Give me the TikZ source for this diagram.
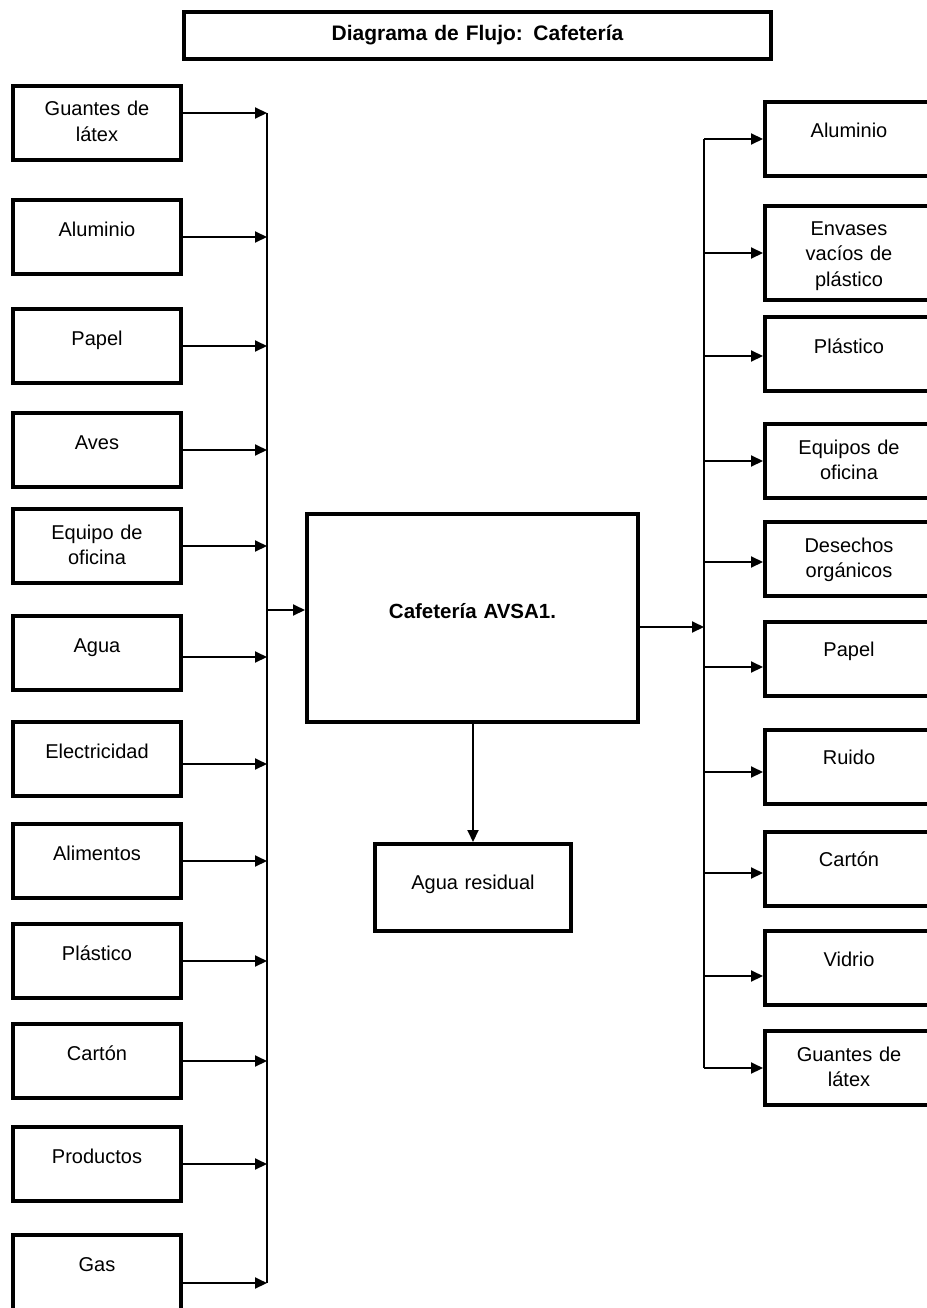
\documentclass[tikz,border=0pt]{standalone}
\usepackage{fontspec}
\setmainfont{Liberation Sans}
\usetikzlibrary{arrows.meta,positioning}
\newcommand{\boxfont}{\fontsize{20}{25.5}\selectfont}
\newcommand{\headfont}{\fontsize{20.5}{25}\selectfont\bfseries}
\newcommand{\titlefont}{\fontsize{21}{25}\selectfont\bfseries}

\begin{document}
\begin{tikzpicture}[x=1pt,y=-1pt,
  inbox/.style={draw,line width=4pt,anchor=north west,inner xsep=4pt,inner ysep=0pt,
    text width=160pt,align=center,font=\boxfont,text height=36pt,text depth=38pt},
  twoline/.style={text height=30pt,text depth=44pt},
  flow/.style={line width=2pt,-{Triangle[length=12pt,width=11pt]}},
  bus/.style={line width=2pt}]
  \useasboundingbox (0,0) rectangle (926,1308);

  \node[inbox,text width=577pt,inner xsep=5pt,font=\titlefont,text height=28.5pt,text depth=18.5pt]
    (title) at (182,10) {Diagrama de Flujo: Cafetería};

  % entradas
  \node[inbox,twoline] (in-guantes) at (11,84) {Guantes de\\látex};
  \node[inbox] (in-aluminio) at (11,198) {Aluminio};
  \node[inbox] (in-papel) at (11,307) {Papel};
  \node[inbox] (in-aves) at (11,411) {Aves};
  \node[inbox,twoline] (in-equipo) at (11,507) {Equipo de\\oficina};
  \node[inbox] (in-agua) at (11,614) {Agua};
  \node[inbox] (in-elec) at (11,720) {Electricidad};
  \node[inbox] (in-alim) at (11,822) {Alimentos};
  \node[inbox] (in-plastico) at (11,922) {Plástico};
  \node[inbox] (in-carton) at (11,1022) {Cartón};
  \node[inbox] (in-prod) at (11,1125) {Productos};
  \node[inbox,text depth=50pt] (in-gas) at (11,1233) {Gas};

  % proceso
  \node[inbox,text width=321pt,inner xsep=5pt,font=\headfont,text height=104pt,text depth=104pt]
    (cafe) at (305,512) {Cafetería AVSA1.};
  \node[inbox,text width=186pt,inner xsep=5pt,text height=45pt,text depth=42pt]
    (aguares) at (373,842) {Agua residual};

  % salidas
  \node[inbox] (out-aluminio) at (763,100) {Aluminio};
  \node[inbox,text height=29pt,text depth=65pt] (out-envases) at (763,204) {Envases\\vacíos de\\plástico};
  \node[inbox] (out-plastico) at (763,315) {Plástico};
  \node[inbox,twoline] (out-equipos) at (763,422) {Equipos de\\oficina};
  \node[inbox,twoline] (out-desechos) at (763,520) {Desechos\\orgánicos};
  \node[inbox,text height=34pt,text depth=40pt] (out-papel) at (763,620) {Papel};
  \node[inbox,text height=34pt,text depth=40pt] (out-ruido) at (763,728) {Ruido};
  \node[inbox,text height=34pt,text depth=40pt] (out-carton) at (763,830) {Cartón};
  \node[inbox,text height=35pt,text depth=39pt] (out-vidrio) at (763,929) {Vidrio};
  \node[inbox,twoline] (out-guantes) at (763,1029) {Guantes de\\látex};

  \coordinate (lbus) at (267,0);
  \coordinate (rbus) at (704,0);

  % flechas de entrada
  \draw[flow] ([yshift=10pt]in-guantes.east) -- ([yshift=10pt]in-guantes.east -| lbus);
  \draw[flow] (in-aluminio.east) -- (in-aluminio.east -| lbus);
  \draw[flow] (in-papel.east) -- (in-papel.east -| lbus);
  \draw[flow] (in-aves.east) -- (in-aves.east -| lbus);
  \draw[flow] (in-equipo.east) -- (in-equipo.east -| lbus);
  \draw[flow] ([yshift=-4pt]in-agua.east) -- ([yshift=-4pt]in-agua.east -| lbus);
  \draw[flow] ([yshift=-5pt]in-elec.east) -- ([yshift=-5pt]in-elec.east -| lbus);
  \draw[flow] (in-alim.east) -- (in-alim.east -| lbus);
  \draw[flow] (in-plastico.east) -- (in-plastico.east -| lbus);
  \draw[flow] (in-carton.east) -- (in-carton.east -| lbus);
  \draw[flow] (in-prod.east) -- (in-prod.east -| lbus);
  \draw[flow] ([yshift=-5pt]in-gas.east) -- ([yshift=-5pt]in-gas.east -| lbus);
  \draw[bus] ([yshift=10pt]in-guantes.east -| lbus) -- ([yshift=-5pt]in-gas.east -| lbus);

  \draw[flow] ([yshift=8pt]cafe.west -| lbus) -- ([yshift=8pt]cafe.west);
  \draw[flow] ([yshift=-9pt]cafe.east) -- ([yshift=-9pt]cafe.east -| rbus);
  \draw[flow] (cafe.south -| aguares.north) -- (aguares.north);

  % flechas de salida
  \draw[bus] (out-aluminio.west -| rbus) -- (out-guantes.west -| rbus);
  \draw[flow] (out-aluminio.west -| rbus) -- (out-aluminio.west);
  \draw[flow] (out-envases.west -| rbus) -- (out-envases.west);
  \draw[flow] ([yshift=-2pt]out-plastico.west -| rbus) -- ([yshift=-2pt]out-plastico.west);
  \draw[flow] (out-equipos.west -| rbus) -- (out-equipos.west);
  \draw[flow] ([yshift=-3pt]out-desechos.west -| rbus) -- ([yshift=-3pt]out-desechos.west);
  \draw[flow] ([yshift=-8pt]out-papel.west -| rbus) -- ([yshift=-8pt]out-papel.west);
  \draw[flow] ([yshift=-5pt]out-ruido.west -| rbus) -- ([yshift=-5pt]out-ruido.west);
  \draw[flow] ([yshift=-4pt]out-carton.west -| rbus) -- ([yshift=-4pt]out-carton.west);
  \draw[flow] ([yshift=-8pt]out-vidrio.west -| rbus) -- ([yshift=-8pt]out-vidrio.west);
  \draw[flow] (out-guantes.west -| rbus) -- (out-guantes.west);
\end{tikzpicture}
\end{document}
